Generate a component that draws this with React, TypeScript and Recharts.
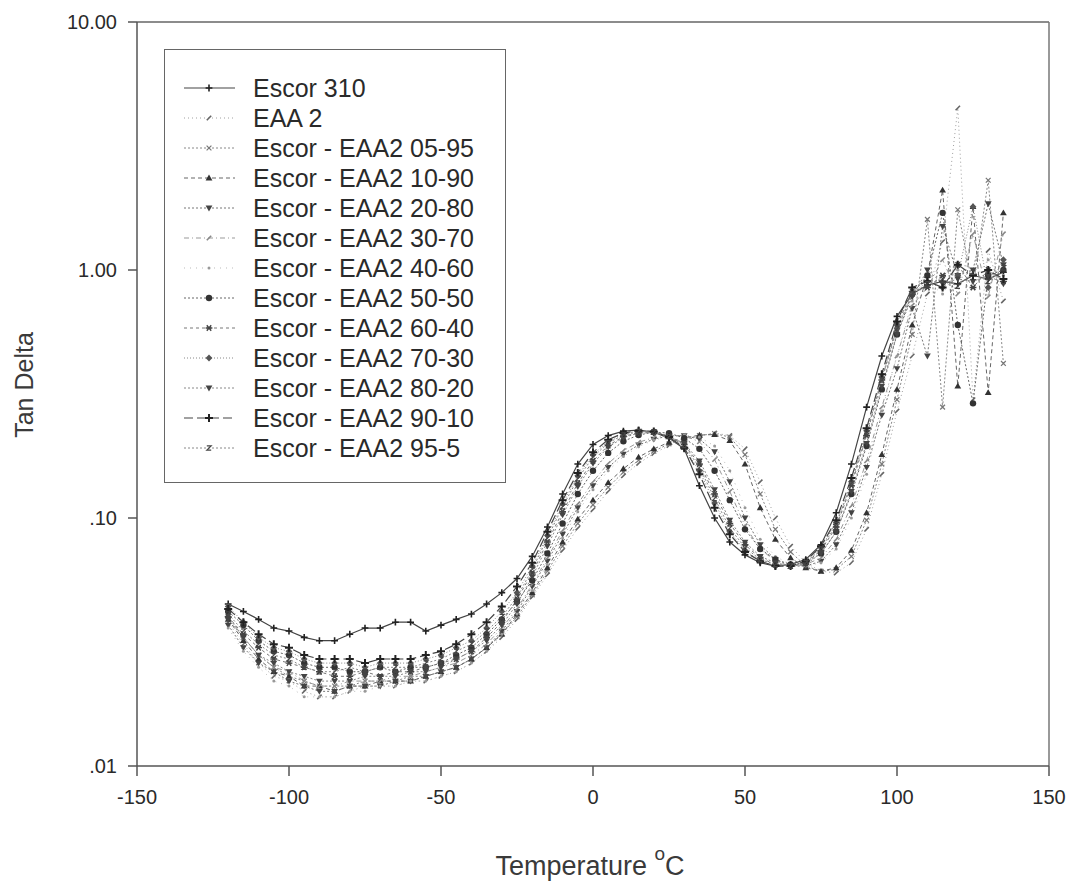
import React from 'react';
import { LineChart, Line, XAxis, YAxis, ReferenceLine, Label } from 'recharts';

const FONT = '"Liberation Sans", Arial, Helvetica, sans-serif';

// temperatures (deg C) shared by every run
const TEMPS = [
  -120, -115, -110, -105, -100, -95, -90, -85, -80, -75,
  -70, -65, -60, -55, -50, -45, -40, -35, -30, -25,
  -20, -15, -10, -5, 0, 5, 10, 15, 20, 25,
  30, 35, 40, 45, 50, 55, 60, 65, 70, 75,
  80, 85, 90, 95, 100, 105, 110, 115, 120, 125,
  130, 135,
];

const ESCOR_310 = [
  0.045, 0.042, 0.039, 0.036, 0.035, 0.033, 0.032, 0.032, 0.034, 0.036,
  0.036, 0.038, 0.038, 0.035, 0.037, 0.039, 0.041, 0.045, 0.050, 0.057,
  0.070, 0.092, 0.125, 0.165, 0.198, 0.215, 0.224, 0.226, 0.222, 0.210,
  0.190, 0.135, 0.100, 0.080, 0.071, 0.066, 0.064, 0.065, 0.068, 0.078,
  0.105, 0.165, 0.280, 0.450, 0.650, 0.800, 0.870, 0.900, 0.880, 0.950,
  0.920, 0.980,
];
const EAA_2 = [
  0.038, 0.031, 0.026, 0.023, 0.022, 0.020, 0.019, 0.019, 0.020, 0.021,
  0.021, 0.021, 0.022, 0.022, 0.023, 0.024, 0.026, 0.029, 0.033, 0.039,
  0.048, 0.059, 0.074, 0.091, 0.108, 0.128, 0.148, 0.166, 0.182, 0.196,
  0.206, 0.214, 0.220, 0.215, 0.190, 0.140, 0.100, 0.077, 0.066, 0.061,
  0.060, 0.066, 0.090, 0.150, 0.270, 0.450, 0.800, 1.300, 4.500, 0.300,
  1.200, 0.750,
];
const BLEND_05_95 = [
  0.040, 0.033, 0.028, 0.025, 0.023, 0.022, 0.021, 0.021, 0.021, 0.022,
  0.022, 0.022, 0.023, 0.023, 0.024, 0.025, 0.027, 0.030, 0.034, 0.040,
  0.049, 0.061, 0.077, 0.095, 0.113, 0.133, 0.153, 0.171, 0.186, 0.199,
  0.208, 0.215, 0.219, 0.212, 0.180, 0.125, 0.090, 0.073, 0.064, 0.061,
  0.062, 0.070, 0.098, 0.165, 0.300, 0.550, 1.600, 0.280, 1.750, 0.850,
  2.300, 0.420,
];
const BLEND_10_90 = [
  0.039, 0.032, 0.027, 0.024, 0.023, 0.021, 0.021, 0.020, 0.021, 0.021,
  0.022, 0.022, 0.022, 0.023, 0.024, 0.025, 0.027, 0.030, 0.034, 0.041,
  0.050, 0.063, 0.080, 0.099, 0.118, 0.139, 0.158, 0.176, 0.190, 0.202,
  0.210, 0.216, 0.217, 0.205, 0.165, 0.110, 0.082, 0.069, 0.063, 0.061,
  0.063, 0.074, 0.105, 0.180, 0.330, 0.600, 0.950, 2.100, 0.340, 1.800,
  0.320, 1.700,
];
const BLEND_20_80 = [
  0.037, 0.030, 0.026, 0.024, 0.022, 0.021, 0.020, 0.020, 0.021, 0.021,
  0.021, 0.022, 0.022, 0.023, 0.024, 0.025, 0.027, 0.030, 0.035, 0.042,
  0.053, 0.067, 0.086, 0.110, 0.135, 0.160, 0.181, 0.197, 0.208, 0.214,
  0.215, 0.208, 0.185, 0.140, 0.100, 0.078, 0.068, 0.064, 0.064, 0.067,
  0.078, 0.105, 0.160, 0.260, 0.400, 0.700, 0.450, 1.500, 0.950, 1.000,
  1.850, 1.050,
];
const BLEND_30_70 = [
  0.040, 0.033, 0.028, 0.025, 0.024, 0.022, 0.021, 0.021, 0.022, 0.022,
  0.022, 0.023, 0.023, 0.024, 0.025, 0.026, 0.028, 0.031, 0.036, 0.043,
  0.054, 0.069, 0.089, 0.114, 0.140, 0.166, 0.187, 0.202, 0.211, 0.215,
  0.215, 0.203, 0.172, 0.128, 0.093, 0.075, 0.067, 0.064, 0.065, 0.069,
  0.082, 0.112, 0.170, 0.280, 0.450, 0.720, 0.850, 1.100, 0.800, 1.400,
  0.780, 1.400,
];
const BLEND_40_60 = [
  0.036, 0.029, 0.025, 0.022, 0.021, 0.019, 0.019, 0.019, 0.020, 0.020,
  0.021, 0.021, 0.022, 0.022, 0.023, 0.024, 0.026, 0.029, 0.034, 0.041,
  0.051, 0.065, 0.083, 0.106, 0.130, 0.155, 0.177, 0.194, 0.206, 0.213,
  0.216, 0.212, 0.195, 0.155, 0.110, 0.082, 0.070, 0.065, 0.064, 0.066,
  0.075, 0.100, 0.150, 0.270, 0.450, 0.750, 0.900, 0.800, 1.000, 0.900,
  1.100, 0.950,
];
const BLEND_50_50 = [
  0.042, 0.037, 0.032, 0.029, 0.028, 0.026, 0.025, 0.025, 0.024, 0.024,
  0.025, 0.024, 0.025, 0.025, 0.026, 0.028, 0.030, 0.034, 0.039, 0.046,
  0.056, 0.072, 0.095, 0.125, 0.155, 0.183, 0.204, 0.216, 0.222, 0.220,
  0.210, 0.190, 0.155, 0.118, 0.090, 0.075, 0.068, 0.065, 0.066, 0.072,
  0.088, 0.125, 0.195, 0.330, 0.550, 0.800, 0.950, 1.700, 0.600, 0.290,
  0.950, 1.000,
];
const BLEND_60_40 = [
  0.040, 0.034, 0.030, 0.027, 0.026, 0.025, 0.024, 0.023, 0.023, 0.024,
  0.023, 0.024, 0.024, 0.025, 0.026, 0.027, 0.029, 0.033, 0.038, 0.047,
  0.060, 0.080, 0.106, 0.138, 0.170, 0.196, 0.213, 0.221, 0.222, 0.214,
  0.198, 0.165, 0.125, 0.095, 0.078, 0.069, 0.065, 0.064, 0.066, 0.074,
  0.092, 0.135, 0.215, 0.360, 0.600, 0.820, 0.850, 0.950, 1.050, 0.850,
  1.000, 0.900,
];
const BLEND_70_30 = [
  0.044, 0.038, 0.033, 0.030, 0.029, 0.027, 0.026, 0.026, 0.026, 0.025,
  0.026, 0.026, 0.026, 0.027, 0.028, 0.030, 0.032, 0.036, 0.042, 0.050,
  0.064, 0.085, 0.114, 0.148, 0.180, 0.204, 0.218, 0.224, 0.222, 0.212,
  0.192, 0.155, 0.115, 0.088, 0.074, 0.067, 0.064, 0.064, 0.067, 0.076,
  0.096, 0.140, 0.225, 0.370, 0.580, 0.800, 0.900, 0.850, 0.950, 1.800,
  0.850, 1.100,
];
const BLEND_80_20 = [
  0.039, 0.033, 0.028, 0.026, 0.024, 0.023, 0.022, 0.022, 0.022, 0.023,
  0.023, 0.023, 0.024, 0.024, 0.025, 0.027, 0.029, 0.032, 0.037, 0.045,
  0.058, 0.077, 0.103, 0.134, 0.166, 0.193, 0.211, 0.220, 0.221, 0.214,
  0.200, 0.170, 0.130, 0.098, 0.080, 0.070, 0.066, 0.064, 0.065, 0.072,
  0.088, 0.128, 0.200, 0.340, 0.550, 0.780, 1.000, 0.880, 0.920, 0.900,
  0.950, 0.880,
];
const BLEND_90_10 = [
  0.043, 0.038, 0.034, 0.031, 0.030, 0.028, 0.027, 0.027, 0.027, 0.026,
  0.027, 0.027, 0.027, 0.028, 0.029, 0.031, 0.034, 0.038, 0.044, 0.053,
  0.066, 0.088, 0.118, 0.152, 0.184, 0.207, 0.220, 0.225, 0.223, 0.212,
  0.192, 0.150, 0.110, 0.086, 0.073, 0.067, 0.064, 0.064, 0.067, 0.077,
  0.098, 0.145, 0.230, 0.380, 0.620, 0.850, 0.900, 0.850, 1.050, 0.950,
  1.000, 0.920,
];
const BLEND_95_5 = [
  0.041, 0.035, 0.031, 0.028, 0.027, 0.025, 0.024, 0.024, 0.025, 0.024,
  0.025, 0.025, 0.025, 0.026, 0.027, 0.029, 0.031, 0.035, 0.040, 0.048,
  0.062, 0.083, 0.111, 0.144, 0.176, 0.201, 0.216, 0.223, 0.222, 0.213,
  0.196, 0.160, 0.120, 0.091, 0.076, 0.068, 0.065, 0.064, 0.066, 0.075,
  0.094, 0.138, 0.220, 0.360, 0.580, 0.800, 0.880, 0.920, 0.860, 0.980,
  0.900, 1.020,
];

const SERIES_NAMES = [
  'Escor 310',
  'EAA 2',
  'Escor - EAA2 05-95',
  'Escor - EAA2 10-90',
  'Escor - EAA2 20-80',
  'Escor - EAA2 30-70',
  'Escor - EAA2 40-60',
  'Escor - EAA2 50-50',
  'Escor - EAA2 60-40',
  'Escor - EAA2 70-30',
  'Escor - EAA2 80-20',
  'Escor - EAA2 90-10',
  'Escor - EAA2 95-5',
];
const SERIES_VALUES = [
  ESCOR_310, EAA_2, BLEND_05_95, BLEND_10_90, BLEND_20_80, BLEND_30_70, BLEND_40_60,
  BLEND_50_50, BLEND_60_40, BLEND_70_30, BLEND_80_20, BLEND_90_10, BLEND_95_5,
];

const X_TICKS = [-150, -100, -50, 0, 50, 100, 150];
const Y_TICKS = [0.01, 0.1, 1, 10];

type Shape = 'plus' | 'tick' | 'xs' | 'triUp' | 'triDown' | 'dot' | 'circle' | 'star' | 'diamond' | 'zed' | 'cross';

interface Look {
  stroke: string;
  dash?: string;
  width: number;
  shape: Shape;
  mark: string;
}

// line + marker look of each run, same order as SERIES_NAMES
const LOOKS: Look[] = [
  { stroke: '#444', width: 1.2, shape: 'plus', mark: '#222' },
  { stroke: '#a0a0a0', dash: '1 3', width: 1, shape: 'tick', mark: '#666' },
  { stroke: '#888', dash: '2 2', width: 1, shape: 'xs', mark: '#777' },
  { stroke: '#666', dash: '4 3', width: 1, shape: 'triUp', mark: '#333' },
  { stroke: '#777', dash: '2 2', width: 1, shape: 'triDown', mark: '#444' },
  { stroke: '#999', dash: '5 3 1 3', width: 1, shape: 'tick', mark: '#888' },
  { stroke: '#bbb', dash: '1 5', width: 1, shape: 'dot', mark: '#999' },
  { stroke: '#666', dash: '2 2', width: 1, shape: 'circle', mark: '#333' },
  { stroke: '#777', dash: '3 3', width: 1, shape: 'star', mark: '#444' },
  { stroke: '#888', dash: '1 2', width: 1, shape: 'diamond', mark: '#555' },
  { stroke: '#888', dash: '2 2', width: 1, shape: 'triDown', mark: '#444' },
  { stroke: '#444', dash: '9 4', width: 1.2, shape: 'cross', mark: '#222' },
  { stroke: '#888', dash: '2 2', width: 1, shape: 'zed', mark: '#444' },
];

const seriesData = SERIES_VALUES.map((vals) => vals.map((v, i) => ({ t: TEMPS[i], v })));

function Marker({ cx, cy, shape, color }: { cx?: number; cy?: number; shape: Shape; color: string }) {
  if (cx == null || cy == null || isNaN(cx) || isNaN(cy)) return null;
  const s = 3.4;
  switch (shape) {
    case 'plus':
      return <path d={`M${cx - s},${cy}H${cx + s}M${cx},${cy - s}V${cy + s}`} stroke={color} strokeWidth={1.6} />;
    case 'cross':
      return <path d={`M${cx - 4},${cy}H${cx + 4}M${cx},${cy - 4}V${cy + 4}`} stroke={color} strokeWidth={2} />;
    case 'tick':
      return <path d={`M${cx - 2.2},${cy + 2.2}L${cx + 2.2},${cy - 2.2}`} stroke={color} strokeWidth={1.6} />;
    case 'xs':
      return (
        <path
          d={`M${cx - 2.4},${cy - 2.4}L${cx + 2.4},${cy + 2.4}M${cx - 2.4},${cy + 2.4}L${cx + 2.4},${cy - 2.4}`}
          stroke={color}
          strokeWidth={1.2}
        />
      );
    case 'triUp':
      return <path d={`M${cx},${cy - s}L${cx + s},${cy + 2.4}L${cx - s},${cy + 2.4}Z`} fill={color} />;
    case 'triDown':
      return <path d={`M${cx},${cy + s}L${cx + s},${cy - 2.4}L${cx - s},${cy - 2.4}Z`} fill={color} />;
    case 'dot':
      return <circle cx={cx} cy={cy} r={1.5} fill={color} />;
    case 'circle':
      return <circle cx={cx} cy={cy} r={3.2} fill={color} />;
    case 'star':
      return (
        <path
          d={`M${cx - s},${cy}H${cx + s}M${cx - 2.2},${cy - 2.8}L${cx + 2.2},${cy + 2.8}M${cx - 2.2},${cy + 2.8}L${cx + 2.2},${cy - 2.8}`}
          stroke={color}
          strokeWidth={1.4}
        />
      );
    case 'diamond':
      return <path d={`M${cx},${cy - s}L${cx + s},${cy}L${cx},${cy + s}L${cx - s},${cy}Z`} fill={color} />;
    case 'zed':
      return (
        <path
          d={`M${cx - 2.2},${cy - 2.2}H${cx + 2.2}L${cx - 2.2},${cy + 2.2}H${cx + 2.2}`}
          stroke={color}
          strokeWidth={1.2}
          fill="none"
        />
      );
    default:
      return null;
  }
}

const fmtY = (v: number) => {
  const s = v.toFixed(2);
  return v < 1 ? s.replace(/^0/, '') : s;
};

function ChartLegend() {
  return (
    <div
      style={{
        position: 'absolute',
        left: 164,
        top: 49,
        width: 340,
        height: 432,
        border: '1.5px solid #666',
        background: '#fff',
        fontFamily: FONT,
        color: '#2a2a2a',
      }}
    >
      {SERIES_NAMES.map((name, i) => {
        const look = LOOKS[i];
        return (
          <div key={name} style={{ position: 'absolute', left: 0, top: 23 + i * 30, height: 30, width: '100%' }}>
            <svg width={54} height={30} style={{ position: 'absolute', left: 18, top: 0 }}>
              <line x1={1} y1={15} x2={52} y2={15} stroke={look.stroke} strokeWidth={look.width} strokeDasharray={look.dash} />
              <Marker cx={26} cy={15} shape={look.shape} color={look.mark} />
            </svg>
            <div style={{ position: 'absolute', left: 88, top: 0, lineHeight: '30px', fontSize: 25, whiteSpace: 'nowrap' }}>
              {name}
            </div>
          </div>
        );
      })}
    </div>
  );
}

export default function App() {
  return (
    <div style={{ position: 'absolute', left: 0, top: 0, width: 1069, height: 886, background: '#fff' }}>
      <LineChart width={1069} height={886} margin={{ top: 22, right: 20, bottom: 60, left: 37 }}>
        <XAxis
          type="number"
          dataKey="t"
          domain={[-150, 150]}
          ticks={X_TICKS}
          allowDataOverflow
          height={60}
          stroke="#555"
          strokeWidth={1.5}
          tickSize={10}
          tickMargin={14}
          tick={{ fill: '#2a2a2a', fontSize: 20, fontFamily: FONT }}
        >
          <Label
            content={() => (
              <text x={590} y={875} textAnchor="middle" fill="#3a3a3a" fontSize={27} fontFamily={FONT}>
                Temperature{' '}
                <tspan dy={-15} fontSize={19}>
                  o
                </tspan>
                <tspan dy={15} fontSize={27}>
                  C
                </tspan>
              </text>
            )}
          />
        </XAxis>
        <YAxis
          type="number"
          dataKey="v"
          scale="log"
          domain={[0.01, 10]}
          ticks={Y_TICKS}
          allowDataOverflow
          width={100}
          stroke="#555"
          strokeWidth={1.5}
          tickSize={9}
          tickMargin={11}
          tickFormatter={fmtY}
          tick={{ fill: '#2a2a2a', fontSize: 20, fontFamily: FONT }}
        >
          <Label
            content={() => (
              <text
                x={33}
                y={385}
                transform="rotate(-90, 33, 385)"
                textAnchor="middle"
                fill="#3a3a3a"
                fontSize={25}
                fontFamily={FONT}
              >
                Tan Delta
              </text>
            )}
          />
        </YAxis>
        <ReferenceLine y={10} stroke="#666" strokeWidth={1.5} />
        <ReferenceLine x={150} stroke="#777" strokeWidth={1.5} />
        {SERIES_NAMES.map((name, i) => {
          const look = LOOKS[i];
          return (
            <Line
              key={name}
              name={name}
              data={seriesData[i]}
              dataKey="v"
              type="linear"
              stroke={look.stroke}
              strokeWidth={look.width}
              strokeDasharray={look.dash}
              isAnimationActive={false}
              dot={(p: any) => (
                <Marker key={`${name}-${p.index}`} cx={p.cx} cy={p.cy} shape={look.shape} color={look.mark} />
              )}
              activeDot={false}
            />
          );
        })}
      </LineChart>
      <ChartLegend />
    </div>
  );
}
